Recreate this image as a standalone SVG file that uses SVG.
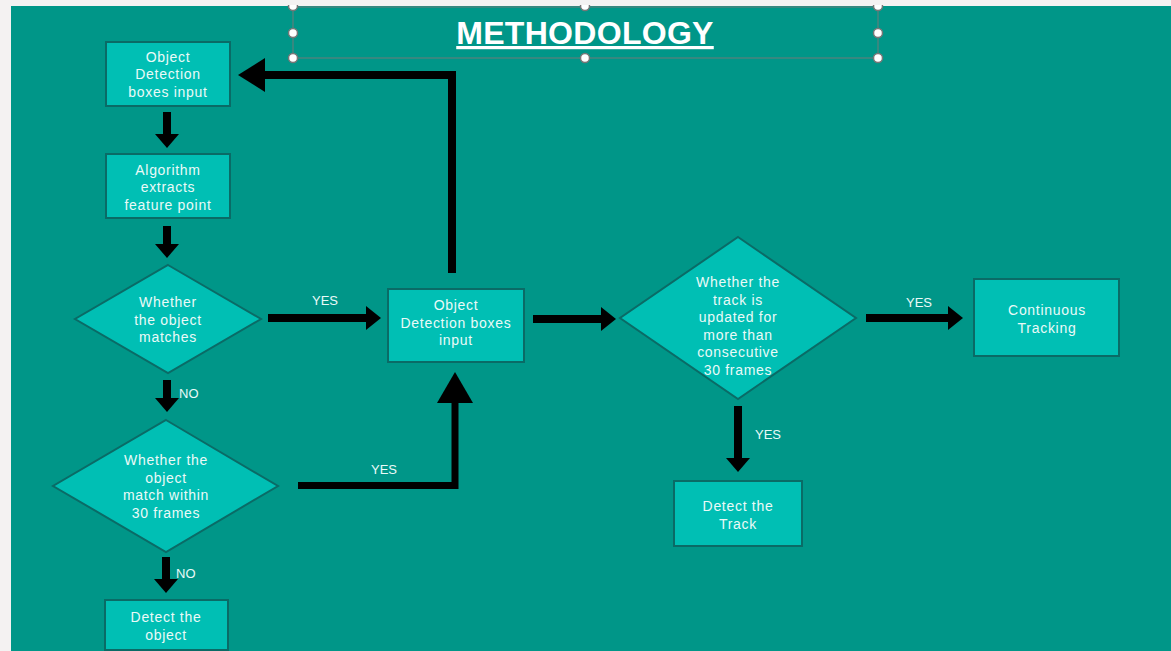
<svg xmlns="http://www.w3.org/2000/svg" width="1171" height="651" viewBox="0 0 1171 651">
<defs>
<style>
.node{fill:#00bfb4;stroke:#0a6b66;stroke-width:2}
.t{font-family:"Liberation Sans",Arial,sans-serif;font-size:14px;letter-spacing:0.7px;fill:#eafaf8;text-anchor:middle}
.lbl{font-family:"Liberation Sans",Arial,sans-serif;font-size:13px;fill:#eafaf8}
.sh{fill:none;stroke:#000;stroke-width:8}
.hd{fill:#000}
.hdl{fill:#fff;stroke:#777;stroke-width:1.5}
</style>
</defs>
<rect width="1171" height="651" fill="#f4f2f2"/>
<rect x="11" y="6" width="1160" height="645" fill="#009688"/>
<g id="title">
<rect x="293" y="7" width="585" height="51" fill="none" stroke="#6f7a78" stroke-width="1"/>
<text x="585" y="44" font-family="'Liberation Sans',Arial,sans-serif" font-size="32" font-weight="bold" letter-spacing="0.3" fill="#fff" text-anchor="middle" text-decoration="underline">METHODOLOGY</text>
<circle class="hdl" cx="293" cy="6" r="4.5"/><circle class="hdl" cx="585" cy="6" r="4.5"/><circle class="hdl" cx="878" cy="6" r="4.5"/>
<circle class="hdl" cx="293" cy="33" r="4.5"/><circle class="hdl" cx="878" cy="33" r="4.5"/>
<circle class="hdl" cx="293" cy="58" r="4.5"/><circle class="hdl" cx="585" cy="58" r="4.5"/><circle class="hdl" cx="878" cy="58" r="4.5"/>
<rect x="280" y="0" width="620" height="5" fill="#f4f2f2"/>
</g>
<g id="connectors">
<path class="sh" d="M167 112V136"/><path class="hd" d="M155 134H179L167 148Z"/>
<path class="sh" d="M167 226V246"/><path class="hd" d="M155 244H179L167 258Z"/>
<path class="sh" d="M167 380V400"/><path class="hd" d="M155 398H179L167 412Z"/>
<path class="sh" d="M166 557V581"/><path class="hd" d="M154 579H178L166 593Z"/>
<path class="sh" d="M268 318H368"/><path class="hd" d="M366 306V330L381 318Z"/>
<path fill="none" stroke="#000" stroke-width="7" d="M298 485.5H455V400"/><path class="hd" d="M437 403H473L455 372Z"/>
<path class="sh" d="M452 273V75H262"/><path class="hd" d="M265 58V92L238 75Z"/>
<path class="sh" d="M533 319H603"/><path class="hd" d="M601 307V331L616 319Z"/>
<path class="sh" d="M866 318H950"/><path class="hd" d="M948 306V330L963 318Z"/>
<path class="sh" d="M738 406V460"/><path class="hd" d="M726 458H750L738 472Z"/>
<text class="lbl" x="312" y="305">YES</text>
<text class="lbl" x="371" y="474">YES</text>
<text class="lbl" x="179" y="398">NO</text>
<text class="lbl" x="176" y="578">NO</text>
<text class="lbl" x="906" y="307">YES</text>
<text class="lbl" x="755" y="439">YES</text>
</g>
<g id="n1"><rect class="node" x="106" y="42" width="124" height="64"/>
<text class="t" x="168" y="62">Object</text><text class="t" x="168" y="79">Detection</text><text class="t" x="168" y="97">boxes input</text></g>
<g id="n2"><rect class="node" x="106" y="154" width="124" height="64"/>
<text class="t" x="168" y="175">Algorithm</text><text class="t" x="168" y="192">extracts</text><text class="t" x="168" y="210">feature point</text></g>
<g id="d1"><path class="node" d="M168 265L261 319L168 373L75 319Z"/>
<text class="t" x="168" y="307">Whether</text><text class="t" x="168" y="325">the object</text><text class="t" x="168" y="342">matches</text></g>
<g id="n3"><rect class="node" x="388" y="289" width="136" height="73"/>
<text class="t" x="456" y="310">Object</text><text class="t" x="456" y="328">Detection boxes</text><text class="t" x="456" y="345">input</text></g>
<g id="d2"><path class="node" d="M166 420L278 486L166 552L53 486Z"/>
<text class="t" x="166" y="465">Whether the</text><text class="t" x="166" y="483">object</text><text class="t" x="166" y="500">match within</text><text class="t" x="166" y="518">30 frames</text></g>
<g id="n4"><rect class="node" x="105" y="600" width="123" height="50"/>
<text class="t" x="166" y="622">Detect the</text><text class="t" x="166" y="640">object</text></g>
<g id="d3"><path class="node" d="M738 237L856 318L738 399L620 318Z"/>
<text class="t" x="738" y="287">Whether the</text><text class="t" x="738" y="305">track is</text><text class="t" x="738" y="322">updated for</text><text class="t" x="738" y="340">more than</text><text class="t" x="738" y="357">consecutive</text><text class="t" x="738" y="375">30 frames</text></g>
<g id="n5"><rect class="node" x="974" y="279" width="145" height="77"/>
<text class="t" x="1047" y="315">Continuous</text><text class="t" x="1047" y="333">Tracking</text></g>
<g id="n6"><rect class="node" x="674" y="481" width="128" height="65"/>
<text class="t" x="738" y="511">Detect the</text><text class="t" x="738" y="529">Track</text></g>
</svg>
